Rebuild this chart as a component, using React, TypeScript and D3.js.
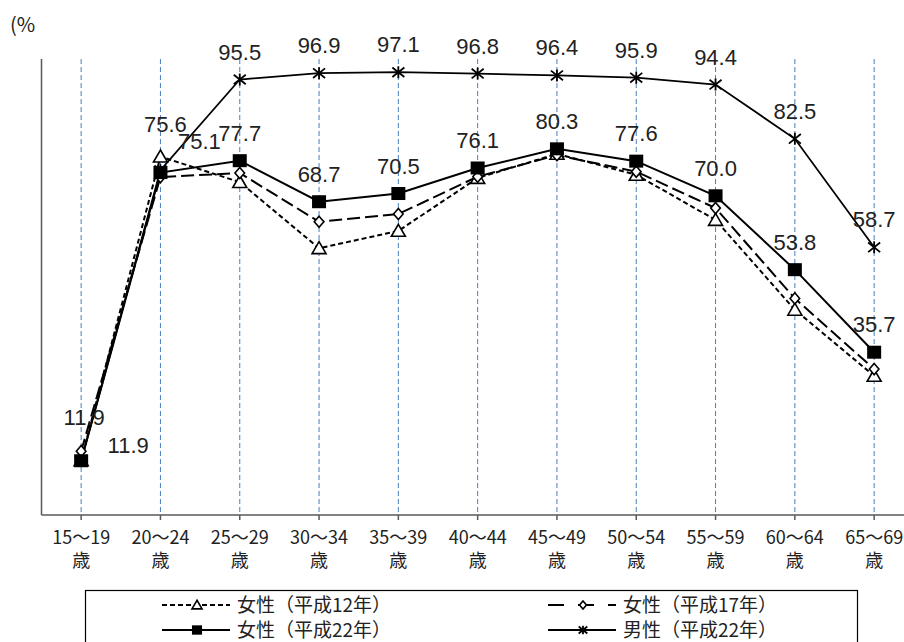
import React from "react";
import * as d3 from "d3";

const categories = ["15〜19", "20〜24", "25〜29", "30〜34", "35〜39", "40〜44", "45〜49", "50〜54", "55〜59", "60〜64", "65〜69"];
const categorySuffix = "歳";
const femaleH12 = [12.0, 78.6, 73.0, 58.5, 62.3, 73.9, 79.2, 74.6, 64.7, 45.0, 30.5];
const femaleH17 = [14.0, 74.1, 75.0, 64.3, 66.0, 74.2, 78.9, 75.3, 67.3, 47.5, 32.0];
const femaleH22 = [11.9, 75.1, 77.7, 68.7, 70.5, 76.1, 80.3, 77.6, 70.0, 53.8, 35.7];
const maleH22 = [11.9, 75.6, 95.5, 96.9, 97.1, 96.8, 96.4, 95.9, 94.4, 82.5, 58.7];
const seriesNames = ["女性（平成12年）", "女性（平成17年）", "女性（平成22年）", "男性（平成22年）"];
const unitLabel = "(%";
const yDomain = [0, 100];

type MarkerKind = "triangle" | "diamond" | "square" | "star";

function Marker({ kind, cx, cy, scale = 1 }: { kind: MarkerKind; cx: number; cy: number; scale?: number }) {
  if (kind === "triangle") {
    const s = 14 * scale, h = 12 * scale;
    return <path d={`M${cx},${cy - h * 0.55}L${cx + s / 2},${cy + h * 0.45}L${cx - s / 2},${cy + h * 0.45}Z`} fill="#fff" stroke="#000" strokeWidth={1.6} />;
  }
  if (kind === "diamond") {
    const rx = 4.8 * scale, ry = 5.6 * scale;
    return <path d={`M${cx},${cy - ry}L${cx + rx},${cy}L${cx},${cy + ry}L${cx - rx},${cy}Z`} fill="#fff" stroke="#000" strokeWidth={1.6} />;
  }
  if (kind === "square") {
    const w = 14 * scale, h = 13 * scale;
    return <rect x={cx - w / 2} y={cy - h / 2} width={w} height={h} fill="#000" />;
  }
  const r = 6 * scale;
  return (
    <path
      d={`M${cx - r},${cy - r * 0.8}L${cx + r},${cy + r * 0.8}M${cx - r},${cy + r * 0.8}L${cx + r},${cy - r * 0.8}M${cx},${cy - r}L${cx},${cy + r}`}
      stroke="#000"
      strokeWidth={1.8}
      fill="none"
    />
  );
}

export default function App() {
  const W = 904, H = 642;
  const step = 79.3;
  const left = 41.5;
  const x = d3.scaleBand<string>().domain(categories).range([left, left + step * categories.length]).padding(0);
  const y = d3.scaleLinear().domain(yDomain).range([515, 59]);
  const cx = (i: number) => (x(categories[i]) as number) + x.bandwidth() / 2;

  const line = d3
    .line<number>()
    .x((_, i) => cx(i))
    .y((d) => y(d));

  const series = [
    { name: seriesNames[0], data: femaleH12, marker: "triangle" as MarkerKind, dash: "5,3", width: 2 },
    { name: seriesNames[1], data: femaleH17, marker: "diamond" as MarkerKind, dash: "13,5", width: 2 },
    { name: seriesNames[2], data: femaleH22, marker: "square" as MarkerKind, dash: undefined, width: 2 },
    { name: seriesNames[3], data: maleH22, marker: "star" as MarkerKind, dash: undefined, width: 1.8 },
  ];

  const labelFont = "'Liberation Sans', Arial, sans-serif";
  const cjkFont = "'Noto Sans CJK JP', 'Noto Sans', sans-serif";

  // label nudges for crowded points (index -> [dx, dy from point])
  const femaleNudge = (i: number): [number, number] => (i === 0 ? [47, -8] : i === 1 ? [39, -24] : [0, -20]);
  const maleNudge = (i: number): [number, number] => (i === 0 ? [3, -36] : i === 1 ? [5, -38] : [0, -20]);

  const legendRows = [
    { row: 0, col: 0, s: series[0] },
    { row: 0, col: 1, s: series[1] },
    { row: 1, col: 0, s: series[2] },
    { row: 1, col: 1, s: series[3] },
  ];
  const legendColX = [162, 548];
  const legendRowY = [605, 630];

  return (
    <svg width={W} height={H} style={{ position: "absolute", left: 0, top: 0, background: "#fff" }}>
      <rect x={0} y={0} width={W} height={H} fill="#fff" />
      <text x={10} y={32} fontFamily={cjkFont} fontSize={20} fill="#222">
        {unitLabel}
      </text>

      {/* vertical gridlines */}
      {categories.map((c, i) => (
        <line key={c} x1={cx(i)} x2={cx(i)} y1={y(100)} y2={y(0)} stroke="#4a7ebb" strokeWidth={1} strokeDasharray="5,3" />
      ))}

      {/* axes */}
      <line x1={left} x2={left} y1={y(100)} y2={y(0)} stroke="#595959" strokeWidth={1.5} />
      <line x1={left} x2={W + 20} y1={y(0)} y2={y(0)} stroke="#595959" strokeWidth={1.5} />
      {categories.map((c, i) => (
        <line key={"t" + c} x1={cx(i)} x2={cx(i)} y1={y(0)} y2={y(0) + 5} stroke="#595959" strokeWidth={1.5} />
      ))}
      {categories.map((c, i) => (
        <g key={"l" + c} fontFamily={cjkFont} fontSize={18} fill="#222" textAnchor="middle">
          <text x={cx(i)} y={543.5}>{c}</text>
          <text x={cx(i)} y={567}>{categorySuffix}</text>
        </g>
      ))}

      {/* lines */}
      {series.map((s) => (
        <path key={"p" + s.name} d={line(s.data) || ""} fill="none" stroke="#000" strokeWidth={s.width} strokeDasharray={s.dash} />
      ))}
      {/* markers */}
      {series.map((s) => (
        <g key={"m" + s.name}>
          {s.data.map((v, i) => (
            <Marker key={i} kind={s.marker} cx={cx(i)} cy={y(v)} />
          ))}
        </g>
      ))}

      {/* data labels */}
      <g fontFamily={labelFont} fontSize={22} fill="#222" textAnchor="middle">
        {femaleH22.map((v, i) => {
          const [dx, dy] = femaleNudge(i);
          return (
            <text key={"fl" + i} x={cx(i) + dx} y={y(v) + dy}>
              {v.toFixed(1)}
            </text>
          );
        })}
        {maleH22.map((v, i) => {
          const [dx, dy] = maleNudge(i);
          return (
            <text key={"ml" + i} x={cx(i) + dx} y={y(v) + dy}>
              {v.toFixed(1)}
            </text>
          );
        })}
      </g>

      {/* legend */}
      <rect x={85.5} y={590.5} width={772} height={80} fill="#fff" stroke="#000" strokeWidth={1.2} />
      {legendRows.map(({ row, col, s }) => {
        const x0 = legendColX[col];
        const ly = legendRowY[row];
        return (
          <g key={"lg" + s.name}>
            <line x1={x0} x2={x0 + 68} y1={ly} y2={ly} stroke="#000" strokeWidth={2} strokeDasharray={s.dash === "13,5" ? "16,14" : s.dash} />
            <Marker kind={s.marker} cx={x0 + 35} cy={ly} scale={0.72} />
            <text x={x0 + 75} y={ly + 6.5} fontFamily={cjkFont} fontSize={19} fill="#222">
              {s.name}
            </text>
          </g>
        );
      })}
    </svg>
  );
}
